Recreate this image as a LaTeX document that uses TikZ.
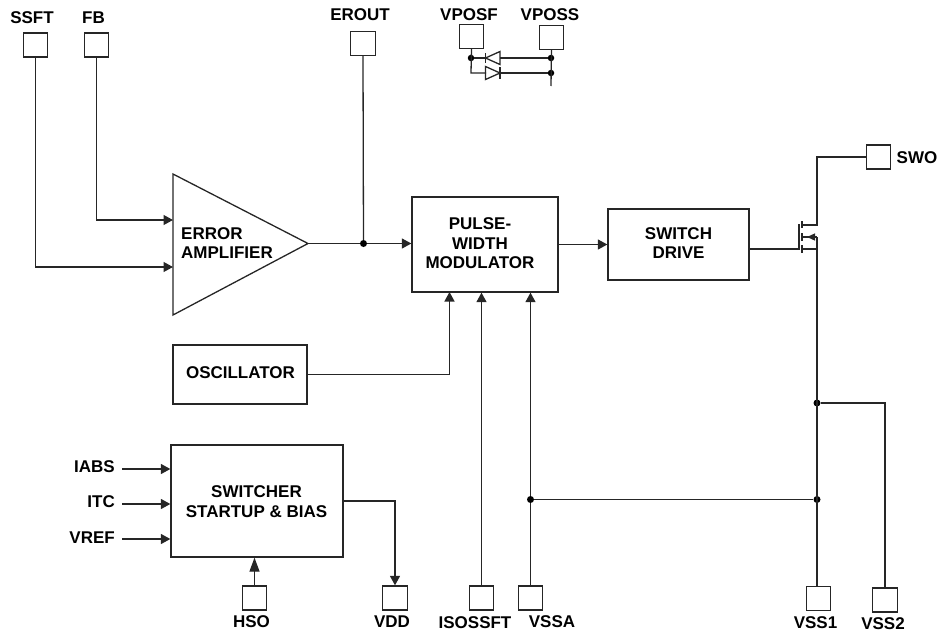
\documentclass[tikz,border=0pt]{standalone}
\usepackage{fontspec}
\setmainfont{Liberation Sans}
\usetikzlibrary{arrows.meta}
\tikzset{
    wire/.style={line width=1.3pt,draw=black!85},
    arrowwire/.style={wire,-{Triangle[length=9.5pt,width=10pt]}},
    block/.style={draw=black!85,line width=1.3pt,fill=white,inner sep=0pt},
    blocktext/.style={inner sep=0pt,align=center,font=\fontsize{17}{19.5}\selectfont\bfseries},
    pad/.style={draw=black!85,line width=1.3pt,fill=white,inner sep=0pt,minimum width=24.5pt,minimum height=24pt},
    pinlabel/.style={inner sep=0pt,font=\fontsize{17}{19.5}\selectfont\bfseries},
    junction/.style={circle,fill=black,inner sep=0pt,minimum size=7pt},
}
\begin{document}
\begin{tikzpicture}[x=1pt,y=-1pt]
    \useasboundingbox (0,0) rectangle (943,632);
    % pads and their labels
    \foreach \padname/\padx/\pady/\labx/\laby/\labtext in {
        ssft/35.5/45/32/17.5/SSFT, fb/96.5/45/93.5/17.5/FB, erout/363/43.5/360/15/EROUT,
        vposf/471.5/36.5/469/15/VPOSF, vposs/551.5/37.5/550/15/VPOSS, swo/878.5/157/917/158/SWO,
        hso/254.5/598/251.5/622/HSO, vdd/395/598/392/622/VDD, isossft/481.5/598/475/623/ISOSSFT,
        vssa/530.5/598/552/622/VSSA, vsso/818.5/598.5/815.5/623/VSS1, vsst/885/600/883/624/VSS2}{
        \node[pad] (\padname) at (\padx,\pady) {};
        \node[pinlabel] (\padname label) at (\labx,\laby) {\labtext};
    }
    % blocks
    \node[block,minimum width=146pt,minimum height=95pt] (pwm) at (485,244.5) {};
    \node[blocktext] (pwmtext) at (480,243.5) {PULSE-\\WIDTH\\MODULATOR};
    \node[block,minimum width=141pt,minimum height=71pt] (drive) at (678.5,244.5) {};
    \node[blocktext] (drivetext) at (678.5,243) {SWITCH\\DRIVE};
    \node[block,minimum width=134pt,minimum height=59pt] (osc) at (240,374.5) {};
    \node[blocktext] (osctext) at (240.5,373) {OSCILLATOR};
    \node[block,minimum width=172pt,minimum height=112pt] (bias) at (257,501) {};
    \node[blocktext] (biastext) at (256.5,501.5) {SWITCHER\\STARTUP \& BIAS};
    % error amplifier
    \draw[wire] (173,174) -- (173,315) -- (308,243.5) -- cycle;
    \node[blocktext,align=left,anchor=west] (amp) at (181,243) {ERROR\\AMPLIFIER};
    \coordinate (ampout) at (308,243.5);
    \coordinate (ampfb) at (173,220);
    \coordinate (ampss) at (173,267);
    % input connectors
    \draw[arrowwire] (ssft.south) |- (ampss);
    \draw[arrowwire] (fb.south) |- (ampfb);
    \draw[arrowwire] (ampout) -- (pwm.west |- ampout);
    \node[junction] (eroutdot) at (363.5,243.5) {};
    \draw[wire] (erout.south) -- (eroutdot);
    \draw[arrowwire] (pwm.east |- drive.west) -- (drive.west);
    \draw[arrowwire] (osc.east) -| (449.5,292);
    \draw[arrowwire] (isossft.north) -- (isossft.north |- pwm.south);
    \draw[arrowwire] (vssa.north) -- (vssa.north |- pwm.south);
    % switcher pins
    \foreach \pinname/\piny/\laby/\pintext in {iabs/469/467/IABS, itc/504/502/ITC, vref/539/538/VREF}{
        \node[pinlabel,anchor=east] (\pinname) at (115,\laby) {\pintext};
        \coordinate (\pinname end) at (bias.west |- 0,\piny);
        \draw[arrowwire] (122,\piny) -- (\pinname end);
    }
    \draw[wire,-{Triangle[length=14pt,width=10pt]}] (hso.north) -- (hso.north |- bias.south);
    \draw[arrowwire] (bias.east) -| (vdd.north);
    % output transistor
    \coordinate (gate) at (799,249);
    \coordinate (drain) at (817,225);
    \coordinate (source) at (817,249);
    \draw[wire] (drive.east |- gate) -- (gate) -- (799,224);
    \draw[wire] (802,221) -- (802,228);
    \draw[wire] (802,233) -- (802,241);
    \draw[wire] (802,245) -- (802,253);
    \draw[wire] (802,225) -- (drain) |- (swo.west);
    \draw[wire,-{Triangle[length=8pt,width=7pt]}] (817,237) -- (807,237);
    \draw[wire] (802,237) -- (810,237);
    \draw[wire] (817,237) -- (source);
    \draw[wire] (802,249) -- (source);
    % ground rails
    \node[junction] (vsstdot) at (817,403) {};
    \node[junction] (vssadot) at (530.5,499.5) {};
    \node[junction] (vssodot) at (817,499.5) {};
    \draw[wire] (source) -- (817,586.5);
    \draw[wire] (vsstdot) -| (vsst.north);
    \draw[wire] (vssadot) -- (vssodot);
    % supply diodes
    \node[junction,minimum size=6.5pt] (vposfdot) at (471,58) {};
    \node[junction,minimum size=6.5pt] (vpossdot) at (551,58) {};
    \node[junction,minimum size=6.5pt] (vposslow) at (551,73) {};
    \coordinate (vposfbend) at (471,73);
    \draw[wire] (vposf.south) -- (vposfbend) -- (486,73);
    \draw[wire] (vposfdot) -- (486,58);
    \draw[wire] (vposs.south) -- (551,86);
    \draw[wire] (500,58) -- (vpossdot);
    \draw[wire] (500,73) -- (vposslow);
    \draw[wire] (485.5,58) -- (500,51.5) -- (500,64.5) -- cycle;
    \draw[wire] (485.5,53) -- (485.5,63);
    \draw[wire] (500,73) -- (485.5,66.5) -- (485.5,79.5) -- cycle;
    \draw[wire] (500,67) -- (500,79);
\end{tikzpicture}
\end{document}
